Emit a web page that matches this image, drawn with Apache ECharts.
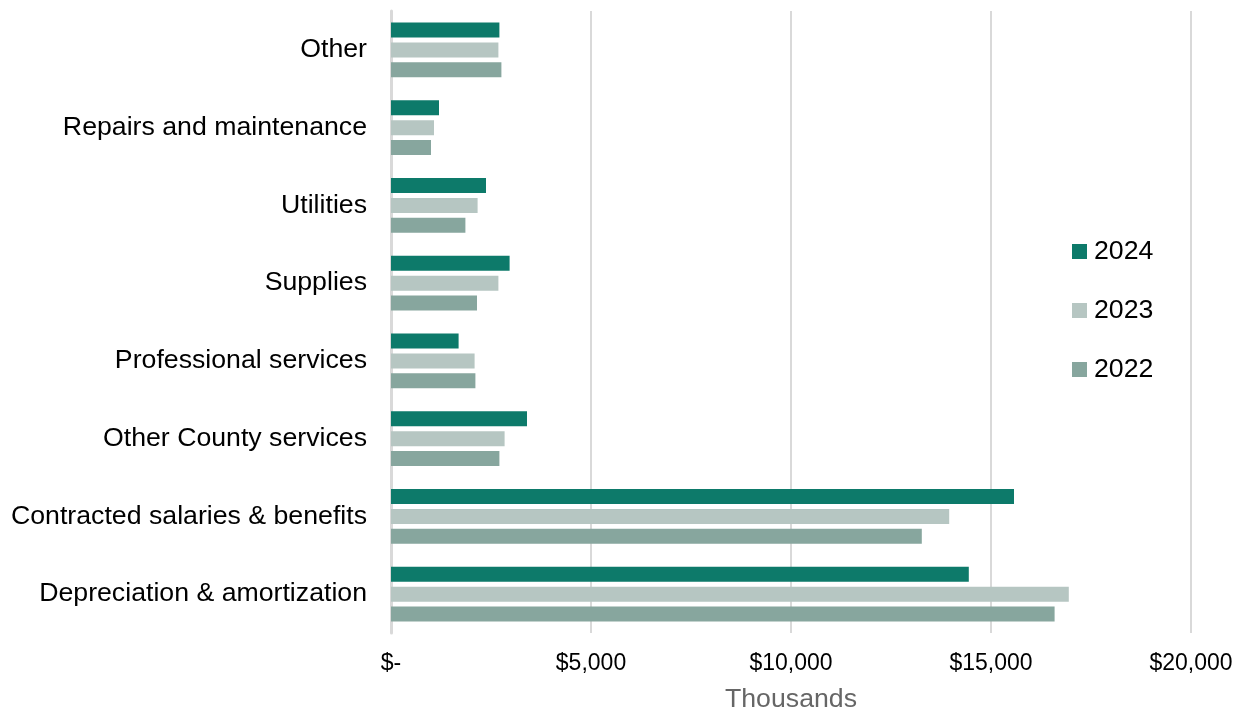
<!DOCTYPE html>
<html>
<head>
<meta charset="utf-8">
<script src="https://cdn.jsdelivr.net/npm/echarts@6/dist/echarts.min.js"></script>
<style>
  html, body { margin: 0; padding: 0; background: #ffffff; overflow: hidden; }
  #chart { width: 1244px; height: 713px; }
</style>
</head>
<body>
<div id="chart"></div>
<script>
// Categories listed top to bottom as they appear in the chart
const categories = [
  'Other',
  'Repairs and maintenance',
  'Utilities',
  'Supplies',
  'Professional services',
  'Other County services',
  'Contracted salaries & benefits',
  'Depreciation & amortization'
];
const seriesNames = ['2024', '2023', '2022'];
// Values in thousands of dollars
const values2024 = [2710, 1200, 2375, 2965, 1690, 3400, 15575, 14445];
const values2023 = [2685, 1075, 2165, 2685, 2090, 2840, 13955, 16945];
const values2022 = [2760, 1000, 1860, 2150, 2110, 2710, 13270, 16590];
const xTicks = { min: 0, max: 20000, interval: 5000 };

const colors = { '2024': '#0d7a6a', '2023': '#b6c6c2', '2022': '#87a69e' };
const font = 'Liberation Sans, Arial, sans-serif';

const seriesData = { '2024': values2024, '2023': values2023, '2022': values2022 };

const el = document.getElementById('chart');
const chart = echarts.init(el, null, { renderer: 'canvas' });
chart.setOption({
  animation: false,
  backgroundColor: '#ffffff',
  textStyle: { fontFamily: font },
  grid: { left: 391, width: 800, top: 11, height: 622, containLabel: false, outerBoundsMode: 'none' },
  legend: {
    data: seriesNames,
    orient: 'vertical',
    left: 1067,
    top: 233,
    itemWidth: 15,
    itemHeight: 15,
    itemGap: 32,
    icon: 'rect',
    textStyle: { fontFamily: font, fontSize: 26.7, color: '#000000', padding: [0, 0, 0, 2] }
  },
  xAxis: {
    type: 'value',
    min: xTicks.min,
    max: xTicks.max,
    interval: xTicks.interval,
    name: 'Thousands',
    nameLocation: 'middle',
    nameGap: 53,
    nameTextStyle: { fontFamily: font, fontSize: 26.7, color: '#666666' },
    axisLine: { show: false },
    axisTick: { show: false },
    axisLabel: {
      margin: 19,
      fontFamily: font,
      fontSize: 23,
      color: '#000000',
      formatter: function (v) {
        return v === 0 ? '$-' : '$' + v.toLocaleString('en-US');
      }
    },
    splitLine: { show: true, lineStyle: { color: '#d9d9d9', width: 2 } }
  },
  yAxis: {
    type: 'category',
    data: categories,
    inverse: true,
    axisLine: { show: true, lineStyle: { color: '#d9d9d9', width: 3 } },
    axisTick: { show: false },
    axisLabel: { margin: 24, fontFamily: font, fontSize: 26.7, color: '#000000' }
  },
  series: seriesNames.map(function (name) {
    return {
      name: name,
      type: 'bar',
      data: seriesData[name],
      barWidth: 15,
      barGap: '33%',
      itemStyle: { color: colors[name] }
    };
  })
});
</script>
</body>
</html>
